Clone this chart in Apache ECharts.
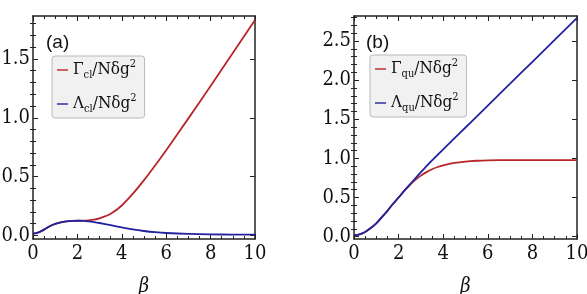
<!DOCTYPE html>
<html>
<head>
<meta charset="utf-8">
<script src="https://cdn.jsdelivr.net/npm/echarts@6/dist/echarts.min.js"></script>
<style>
html, body { margin: 0; padding: 0; background: #fff; }
#chart { width: 587px; height: 294px; }
</style>
</head>
<body>
<div id="chart"></div>
<script>
// panel (a): classical rates
var betaA = [0, 0.25, 0.5, 0.75, 1, 1.25, 1.5, 1.75, 2, 2.25, 2.5, 2.75, 3, 3.5, 4, 4.5, 5, 5.5, 6, 7, 8, 9, 10];
var gammaCl = [0.015, 0.027, 0.05, 0.078, 0.098, 0.111, 0.119, 0.124, 0.125, 0.126, 0.129, 0.135, 0.146, 0.185, 0.255, 0.355, 0.47, 0.595, 0.725, 0.995, 1.27, 1.55, 1.83];
var lambdaCl = [0.015, 0.027, 0.05, 0.078, 0.098, 0.111, 0.119, 0.124, 0.125, 0.124, 0.12, 0.114, 0.106, 0.087, 0.068, 0.051, 0.038, 0.028, 0.021, 0.013, 0.009, 0.008, 0.007];

// panel (b): quantum rates
var betaB = [0, 0.25, 0.5, 0.75, 1, 1.25, 1.5, 1.75, 2, 2.25, 2.5, 2.75, 3, 3.25, 3.5, 3.75, 4, 4.5, 5, 5.5, 6, 7, 8, 9, 10];
var gammaQu = [0.02, 0.03, 0.06, 0.11, 0.17, 0.25, 0.33, 0.42, 0.5, 0.585, 0.66, 0.725, 0.78, 0.825, 0.862, 0.89, 0.912, 0.942, 0.96, 0.97, 0.975, 0.978, 0.978, 0.978, 0.978];
var lambdaQu = [0.02, 0.03, 0.06, 0.11, 0.17, 0.25, 0.33, 0.42, 0.5, 0.585, 0.665, 0.745, 0.825, 0.9, 0.975, 1.045, 1.115, 1.255, 1.395, 1.535, 1.675, 1.955, 2.235, 2.515, 2.795];

// tick labels
var yMajorA = [0, 0.5, 1.0, 1.5];
var yMinorA = [0.1, 0.2, 0.3, 0.4, 0.6, 0.7, 0.8, 0.9, 1.1, 1.2, 1.3, 1.4, 1.6, 1.7, 1.8];
var yMajorB = [0, 0.5, 1.0, 1.5, 2.0, 2.5];
var yMinorB = [0.1, 0.2, 0.3, 0.4, 0.6, 0.7, 0.8, 0.9, 1.1, 1.2, 1.3, 1.4, 1.6, 1.7, 1.8, 1.9, 2.1, 2.2, 2.3, 2.4, 2.6, 2.7, 2.8];
var panelTags = ['(a)', '(b)'];
var legendA = [['Γ', 'cl'], ['Λ', 'cl']];
var legendB = [['Γ', 'qu'], ['Λ', 'qu']];

var RED = '#b8262b';
var BLUE = '#22229e';
var INK = '#222';
var SERIF = 'DejaVu Serif Condensed, DejaVu Serif';
var SANS = 'Liberation Sans';

function pairs(xs, ys) {
  var out = [];
  for (var i = 0; i < xs.length; i++) out.push([xs[i], ys[i]]);
  return out;
}

// x axes: bottom with labels + top frame
function xAxes(g) {
  var base = {
    type: 'value', gridIndex: g, min: 0, max: 10, interval: 2,
    axisLine: { show: true, onZero: false, lineStyle: { color: INK, width: 1.5 } },
    axisTick: { inside: true, length: 5, lineStyle: { color: INK } },
    minorTick: { show: true, splitNumber: 4, length: 3, lineStyle: { color: INK } },
    splitLine: { show: false }
  };
  var bottom = Object.assign({}, base, {
    position: 'bottom',
    axisLabel: { color: '#111', fontFamily: SERIF, fontSize: 20, margin: 5 },
    name: 'β', nameLocation: 'middle', nameGap: 38,
    nameTextStyle: { fontFamily: SERIF, fontStyle: 'italic', fontSize: 20, color: '#111' }
  });
  var top = Object.assign({}, base, { position: 'top', axisLabel: { show: false } });
  return [bottom, top];
}

// y axes: left major (labels), left minor, right major, right minor
function yAxes(g, max, major, minor) {
  var out = [];
  ['left', 'right'].forEach(function (pos) {
    out.push({
      type: 'value', gridIndex: g, min: -0.03, max: max, position: pos,
      axisLine: { show: true, onZero: false, lineStyle: { color: INK, width: 1.5 } },
      axisTick: { inside: true, length: 5, customValues: major, lineStyle: { color: INK } },
      axisLabel: pos === 'left' ? {
        customValues: major, margin: 3, color: '#111', fontSize: 20, fontFamily: SERIF,
        formatter: function (v) { return v.toFixed(1); }
      } : { show: false },
      splitLine: { show: false }
    });
    out.push({
      type: 'value', gridIndex: g, min: -0.03, max: max, position: pos,
      axisLine: { show: false },
      axisTick: { inside: true, length: 3, customValues: minor, lineStyle: { color: INK } },
      axisLabel: { show: false },
      splitLine: { show: false }
    });
  });
  return out;
}

function legendFor(names, labels, left, top) {
  return {
    orient: 'vertical', left: left, top: top,
    data: names.map(function (n) { return { name: n, icon: 'rect', itemStyle: { opacity: 0.7 } }; }),
    itemWidth: 11, itemHeight: 2, itemGap: 12,
    backgroundColor: '#f1f1f1', borderColor: '#b9b9b9', borderWidth: 1, borderRadius: 3,
    padding: [3, 8, 3, 5],
    formatter: function (name) {
      var p = labels[names.indexOf(name)];
      return '{b|' + p[0] + '}{s|' + p[1] + '}{b|/Nδg}{p|2}';
    },
    textStyle: {
      color: '#111', fontFamily: SERIF,
      rich: {
        b: { fontFamily: SERIF, fontSize: 17, lineHeight: 22, color: '#111', verticalAlign: 'middle' },
        s: { fontFamily: SERIF, fontSize: 11, lineHeight: 15, color: '#111', verticalAlign: 'bottom' },
        p: { fontFamily: SERIF, fontSize: 11, lineHeight: 12, color: '#111', verticalAlign: 'top' }
      }
    }
  };
}

function line(name, xi, yi, xs, ys, color) {
  return {
    name: name, type: 'line', xAxisIndex: xi, yAxisIndex: yi,
    data: pairs(xs, ys), smooth: 0.3, showSymbol: false, symbol: 'none',
    color: color, lineStyle: { color: color, width: 1.8 }, z: 3
  };
}

var chart = echarts.init(document.getElementById('chart'), null, { renderer: 'canvas' });
var option = {
  animation: false,
  backgroundColor: '#fff',
  title: [
    { text: panelTags[0], left: 41, top: 28, textStyle: { fontFamily: SANS, fontSize: 19, fontWeight: 'normal', color: '#111' } },
    { text: panelTags[1], left: 361, top: 28, textStyle: { fontFamily: SANS, fontSize: 19, fontWeight: 'normal', color: '#111' } }
  ],
  grid: [
    { left: 33, top: 16, width: 222, height: 223, outerBoundsMode: 'none' },
    { left: 354, top: 16, width: 223, height: 223, outerBoundsMode: 'none' }
  ],
  xAxis: xAxes(0).concat(xAxes(1)),
  yAxis: yAxes(0, 1.865, yMajorA, yMinorA).concat(yAxes(1, 2.82, yMajorB, yMinorB)),
  legend: [
    legendFor(['Gcl', 'Lcl'], legendA, 52, 56),
    legendFor(['Gqu', 'Lqu'], legendB, 370, 55)
  ],
  series: [
    line('Gcl', 0, 0, betaA, gammaCl, RED),
    line('Lcl', 0, 0, betaA, lambdaCl, BLUE),
    line('Gqu', 2, 4, betaB, gammaQu, RED),
    line('Lqu', 2, 4, betaB, lambdaQu, BLUE)
  ]
};
chart.setOption(option);
window.addEventListener('resize', function () { chart.resize(); });
</script>
</body>
</html>
